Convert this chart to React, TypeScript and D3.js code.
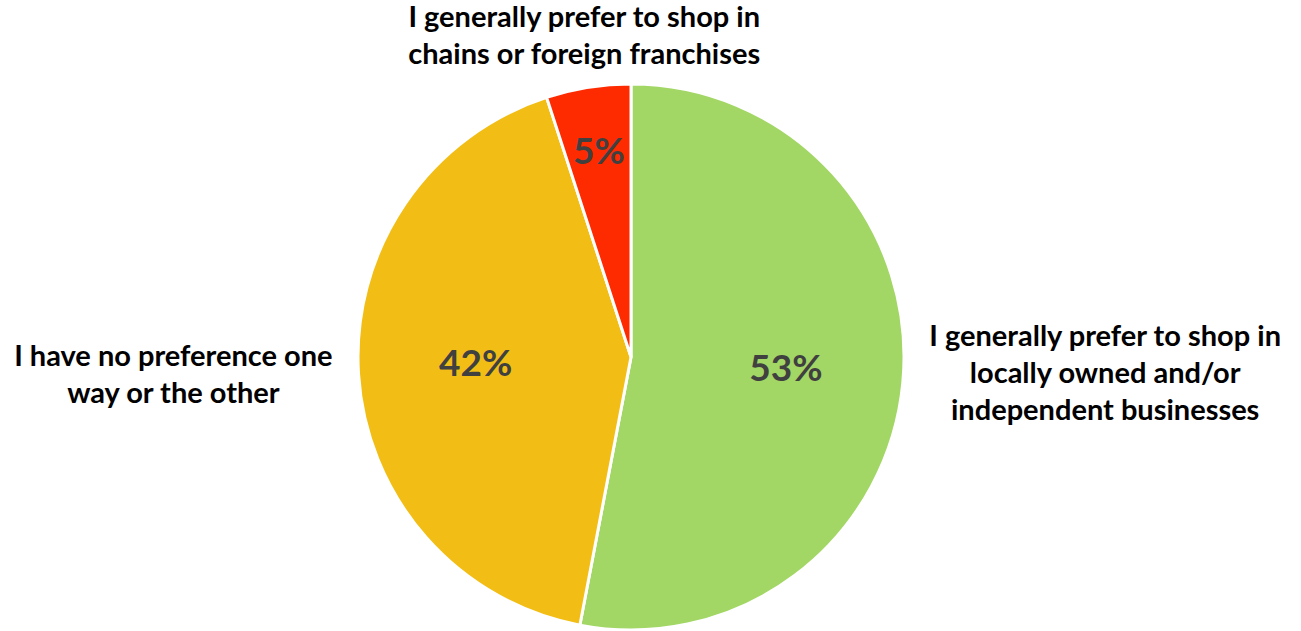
import React from "react";
import * as d3 from "d3";

const categories = [
  ["I generally prefer to shop in", "locally owned and/or", "independent businesses"],
  ["I have no preference one", "way or the other"],
  ["I generally prefer to shop in", "chains or foreign franchises"],
];
const values = [53, 42, 5];
const percentLabels = ["53%", "42%", "5%"];
const colors = ["#A2D665", "#F2BE16", "#FF2B00"];

const W = 1301;
const H = 631;
const cx = 631;
const cy = 357;
const R = 273;
const FONT = "Lato, 'Open Sans', sans-serif";
const FS = 29;

function measure(text: string, size: number): number {
  const c = document.createElement("canvas").getContext("2d");
  if (!c) return text.length * size * 0.5;
  c.font = `bold ${size}px Lato`;
  return c.measureText(text).width;
}

export default function App() {
  const pie = d3.pie<number>().sort(null).value((d) => d);
  const arcs = pie(values);
  const arcGen = d3.arc<d3.PieArcDatum<number>>().innerRadius(0).outerRadius(R);

  return (
    <svg width={W} height={H} style={{ position: "absolute", left: 0, top: 0 }}>
      <g transform={`translate(${cx},${cy})`}>
        {arcs.map((a, i) => (
          <path key={i} d={arcGen(a) || ""} fill={colors[i]} stroke="#fff" strokeWidth={3} />
        ))}
        {arcs.map((a, i) => {
          const mid = (a.startAngle + a.endAngle) / 2;
          const span = a.endAngle - a.startAngle;
          const r = span < 0.5 ? R * 0.75 : R * 0.57;
          const x = r * Math.sin(mid);
          const y = -r * Math.cos(mid) - 5;
          return (
            <text
              key={"p" + i}
              x={x}
              y={y}
              textAnchor="middle"
              dominantBaseline="central"
              fontFamily={FONT}
              fontWeight="bold"
              fontSize={37}
              fill="#404040"
            >
              {percentLabels[i]}
            </text>
          );
        })}
        {arcs.map((a, i) => {
          const mid = (a.startAngle + a.endAngle) / 2;
          const s = Math.sin(mid);
          const c = Math.cos(mid);
          const lr = R + 26;
          const lines = categories[i];
          const lh = 37;
          const maxW = Math.max(...lines.map((l) => measure(l, FS)));
          let x = lr * s;
          let y = -lr * c;
          let y0: number;
          if (Math.abs(s) > 0.7) {
            x = x + (s > 0 ? 1 : -1) * maxW / 2;
            y0 = y - 2.5 - (lines.length - 2) * 11.5 - ((lines.length - 1) * lh) / 2;
          } else {
            y0 = y - (lines.length - 1) * lh - 9;
          }
          return (
            <text
              key={"c" + i}
              textAnchor="middle"
              fontFamily={FONT}
              fontWeight="bold"
              fontSize={FS}
              fill="#000"
            >
              {lines.map((ln, j) => (
                <tspan key={j} x={x} y={y0 + j * lh} dominantBaseline="central">
                  {ln}
                </tspan>
              ))}
            </text>
          );
        })}
      </g>
    </svg>
  );
}
